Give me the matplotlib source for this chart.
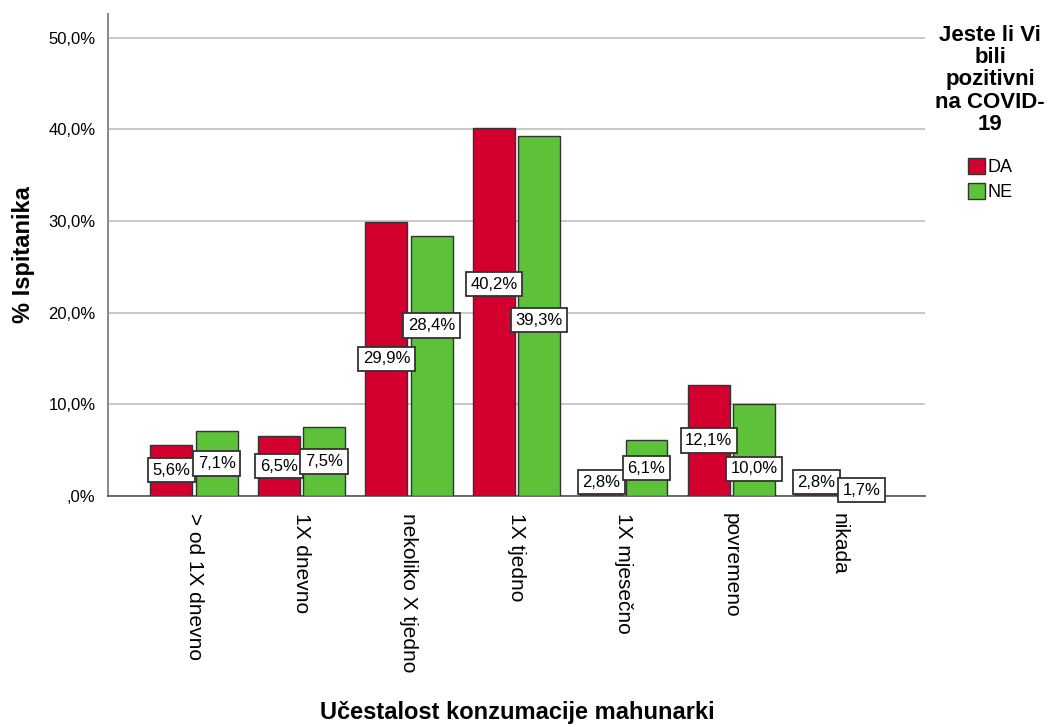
import numpy as np
import matplotlib.pyplot as plt
from matplotlib.patches import Patch

plt.rcParams['font.family'] = ['Liberation Sans', 'DejaVu Sans']

# data
categories = ['> od 1X dnevno', '1X dnevno', 'nekoliko X tjedno', '1X tjedno',
              '1X mjesečno', 'povremeno', 'nikada']
da_values = [5.6, 6.5, 29.9, 40.2, 2.8, 12.1, 2.8]
ne_values = [7.1, 7.5, 28.4, 39.3, 6.1, 10.0, 1.7]
series_names = ['DA', 'NE']
yticks = [0, 10, 20, 30, 40, 50]

# label nudges (in %) to mimic how SPSS avoids overlapping labels
nudge_da = [0, 0, 0, 3.0, 0.1, 0, 0.1]
nudge_ne = [0, 0, 4.4, -0.45, 0, -2.05, -0.2]

RED = '#D3002F'
GREEN = '#5DC13A'
EDGE = '#333333'

def fmt_pct(v):
    s = f'{v:.1f}'.replace('.', ',')
    if s.startswith('0'):
        s = s[1:]
    return s + '%'

fig = plt.figure(figsize=(10.51, 7.27), dpi=100)
ax = fig.add_axes([0.1028, 0.3178, 0.880 - 0.1028, 0.9807 - 0.3178])

x = np.arange(len(categories))
w = 0.39
off = 0.21
ax.bar(x - off, da_values, width=w, color=RED, edgecolor=EDGE, linewidth=1.0, zorder=3)
ax.bar(x + off, ne_values, width=w, color=GREEN, edgecolor=EDGE, linewidth=1.0, zorder=3)

box = dict(boxstyle='square,pad=0.28', facecolor='white', edgecolor=EDGE, linewidth=1.3)
for i in range(len(categories)):
    ax.text(x[i] - off, da_values[i] / 2 + nudge_da[i], fmt_pct(da_values[i]),
            ha='center', va='center', fontsize=12, bbox=box, zorder=5)
    ax.text(x[i] + off, ne_values[i] / 2 + nudge_ne[i], fmt_pct(ne_values[i]),
            ha='center', va='center', fontsize=12, bbox=box, zorder=5)

ax.set_xlim(-0.8, 6.8)
ax.set_ylim(0, 52.6)
ax.set_yticks(yticks)
ax.set_yticklabels([fmt_pct(v) for v in yticks], fontsize=12)
ax.yaxis.grid(True, color='#C8C8C8', linewidth=1.4, zorder=0)
ax.set_axisbelow(True)
ax.set_xticks(x)
ax.set_xticklabels(categories, rotation=270, fontsize=15, va='top', ha='center')
ax.tick_params(axis='x', length=0, pad=12)
ax.tick_params(axis='y', length=0, pad=9)

for s in ['top', 'right']:
    ax.spines[s].set_visible(False)
ax.spines['left'].set_color('#888888')
ax.spines['left'].set_linewidth(1.4)
ax.spines['bottom'].set_color('#555555')
ax.spines['bottom'].set_linewidth(1.2)

ax.set_ylabel('% Ispitanika', fontsize=17, fontweight='bold')
ax.yaxis.set_label_coords(-0.089, 0.5)
fig.text(0.492, 0.02, 'Učestalost konzumacije mahunarki', fontsize=17,
         fontweight='bold', ha='center', va='center')

# legend title and entries placed separately
fig.text(0.942, 0.966, 'Jeste li Vi\nbili\npozitivni\nna COVID-\n19', fontsize=16,
         fontweight='bold', ha='center', va='top', linespacing=1.08)
handles = [Patch(facecolor=RED, edgecolor=EDGE), Patch(facecolor=GREEN, edgecolor=EDGE)]
fig.legend(handles, series_names, loc='upper center', bbox_to_anchor=(0.942, 0.795),
           frameon=False, fontsize=13, handlelength=0.95, handleheight=1.0,
           handletextpad=0.15, labelspacing=0.35, borderpad=0)

fig.savefig('out.png', dpi=100)
